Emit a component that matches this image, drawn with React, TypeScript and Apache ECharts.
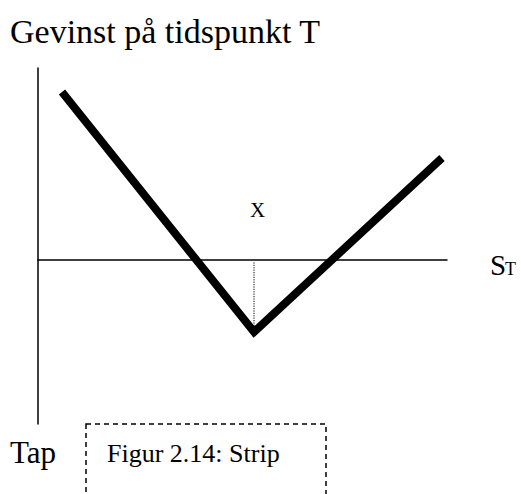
import React, { useEffect, useRef } from "react";
import * as echarts from "echarts";

// Payoff of a strip at time T (axis units)
const payoffX = [6, 54, 101];
const payoffY = [42, -18, 25.5];
const strikeX = 54;
const strikeLineY = [-0.6, -16.5];

const titleText = "Gevinst på tidspunkt T";
const lossText = "Tap";
const captionText = "Figur 2.14: Strip";
const strikeLabel = "X";

const FONT = "'Liberation Serif', 'Times New Roman', serif";

export default function App() {
  const ref = useRef<HTMLDivElement>(null);
  useEffect(() => {
    if (!ref.current) return;
    const chart = echarts.init(ref.current, undefined, { renderer: "svg" });
    const payoff = payoffX.map((x, i) => [x, payoffY[i]]);
    const strikeLine = strikeLineY.map((y) => [strikeX, y]);
    chart.setOption({
      animation: false,
      backgroundColor: "#ffffff",
      grid: { left: 38, right: 74, top: 68, bottom: 70 },
      xAxis: {
        type: "value",
        min: 0,
        max: 102.25,
        axisLine: { show: true, onZero: true, lineStyle: { color: "#000", width: 1.5 } },
        axisTick: { show: false },
        axisLabel: { show: false },
        splitLine: { show: false },
      },
      yAxis: {
        type: "value",
        min: -41,
        max: 48,
        axisLine: { show: true, onZero: false, lineStyle: { color: "#000", width: 1.5 } },
        axisTick: { show: false },
        axisLabel: { show: false },
        splitLine: { show: false },
      },
      series: [
        {
          type: "line",
          data: strikeLine,
          showSymbol: false,
          lineStyle: { color: "#000", width: 1, type: [1.2, 1.2] },
          z: 1,
        },
        {
          type: "line",
          data: payoff,
          showSymbol: false,
          lineStyle: { color: "#000", width: 8, cap: "butt", join: "miter" },
          z: 2,
        },
      ],
      graphic: [
        {
          type: "text",
          left: 10,
          top: 14,
          style: { text: titleText, font: `34px ${FONT}`, fill: "#000" },
        },
        {
          type: "text",
          x: 10,
          y: 452,
          style: { text: lossText, font: `31px ${FONT}`, fill: "#000", verticalAlign: "middle" },
        },
        {
          type: "text",
          x: 250,
          y: 210,
          style: { text: strikeLabel, font: `21px ${FONT}`, fill: "#000", verticalAlign: "middle" },
        },
        {
          type: "text",
          x: 490,
          y: 265,
          style: { text: "S", font: `29px ${FONT}`, fill: "#000", verticalAlign: "middle" },
        },
        {
          type: "text",
          x: 505,
          y: 269,
          style: { text: "T", font: `18px ${FONT}`, fill: "#000", verticalAlign: "middle" },
        },
        {
          type: "rect",
          shape: { x: 86, y: 424, width: 240, height: 100 },
          style: { fill: "none", stroke: "#000", lineWidth: 1.5, lineDash: [5, 4] },
        },
        {
          type: "text",
          x: 107,
          y: 453,
          style: { text: captionText, font: `26px ${FONT}`, fill: "#000", verticalAlign: "middle" },
        },
      ],
    });
    return () => chart.dispose();
  }, []);
  return (
    <div
      ref={ref}
      style={{ position: "absolute", left: 0, top: 0, width: 521, height: 494 }}
    />
  );
}
